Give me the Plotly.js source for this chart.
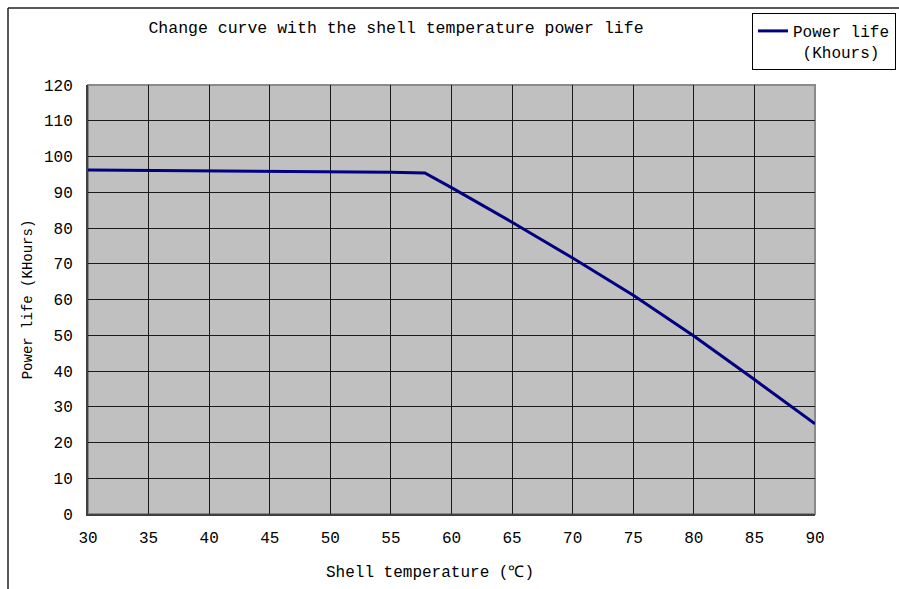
<!DOCTYPE html>
<html>
<head>
<meta charset="utf-8">
<script src="https://cdn.plot.ly/plotly-3.0.1.min.js"></script>
<style>html,body{margin:0;padding:0;background:#fff;}#chart{width:899px;height:589px;}</style>
</head>
<body>
<div id="chart"></div>
<script>
// Data
const temperature = [30, 35, 40, 45, 50, 55, 57.8, 60, 65, 70, 75, 80, 85, 90];
const powerLife = [96.2, 96.1, 96.0, 95.9, 95.8, 95.6, 95.4, 91.3, 81.6, 71.6, 61.2, 49.8, 37.6, 25.2];
const seriesName = 'Power life<br>\u00a0(Khours)';
const chartTitle = 'Change curve with the shell temperature power life';
const xTitle = 'Shell temperature (\u2103)';
const yTitle = 'Power life (KHours)';

const FONT = '"Liberation Mono", "DejaVu Sans Mono", monospace';

const trace = {
  x: temperature,
  y: powerLife,
  type: 'scatter',
  mode: 'lines',
  name: seriesName,
  line: {color: '#000080', width: 3},
  showlegend: true
};

const layout = {
  width: 899,
  height: 589,
  margin: {l: 88, r: 84, t: 85, b: 75, autoexpand: false},
  paper_bgcolor: '#ffffff',
  plot_bgcolor: '#c0c0c0',
  font: {family: FONT, size: 16, color: '#000'},
  title: {
    text: chartTitle,
    font: {family: FONT, size: 16.5, color: '#000'},
    xref: 'container', yref: 'container',
    x: 396 / 899, xanchor: 'center',
    y: 1 - 27 / 589, yanchor: 'middle'
  },
  xaxis: {
    range: [30, 90],
    dtick: 5,
    tick0: 30,
    showgrid: true,
    gridcolor: '#1a1a1a',
    gridwidth: 1,
    showline: true,
    linecolor: '#404040',
    linewidth: 2,
    zeroline: false,
    ticks: '',
    ticklabelstandoff: 8,
    tickfont: {family: FONT, size: 16, color: '#000'}
  },
  yaxis: {
    range: [0, 120],
    dtick: 10,
    tick0: 0,
    showgrid: true,
    gridcolor: '#1a1a1a',
    gridwidth: 1,
    showline: true,
    linecolor: '#404040',
    linewidth: 2,
    zeroline: false,
    ticks: '',
    ticklabelstandoff: 10,
    tickfont: {family: FONT, size: 16, color: '#000'},
    title: {text: yTitle, font: {family: FONT, size: 14, color: '#000'}, standoff: 8}
  },
  legend: {
    xref: 'container', yref: 'container',
    x: 752 / 899, xanchor: 'left',
    y: 1 - 13 / 589, yanchor: 'top',
    bgcolor: '#ffffff',
    bordercolor: '#000',
    borderwidth: 1,
    itemwidth: 30,
    font: {family: FONT, size: 16, color: '#000'},
    valign: 'top'
  },
  annotations: [
    {text: xTitle, xref: 'paper', yref: 'paper', x: (430 - 88) / 727, y: -(573 - 514) / 429,
     xanchor: 'center', yanchor: 'middle', showarrow: false,
     font: {family: FONT, size: 16, color: '#000'}}
  ],
  shapes: [
    {type: 'rect', xref: 'paper', yref: 'paper', x0: 0, x1: 1, y0: 0, y1: 1,
     line: {color: '#8a8a8a', width: 2}, layer: 'between'},
    {type: 'line', xref: 'paper', yref: 'paper', x0: -80/727, x1: 1 + 84/727,
     y0: 1 + (85 - 8) / 429, y1: 1 + (85 - 8) / 429, line: {color: '#222', width: 1.5}},
    {type: 'line', xref: 'paper', yref: 'paper', x0: -80/727, x1: -80/727,
     y0: 1 + (85 - 8) / 429, y1: -75/429, line: {color: '#222', width: 1.5}}
  ]
};

Plotly.newPlot('chart', [trace], layout, {displayModeBar: false, staticPlot: true});
</script>
</body>
</html>
